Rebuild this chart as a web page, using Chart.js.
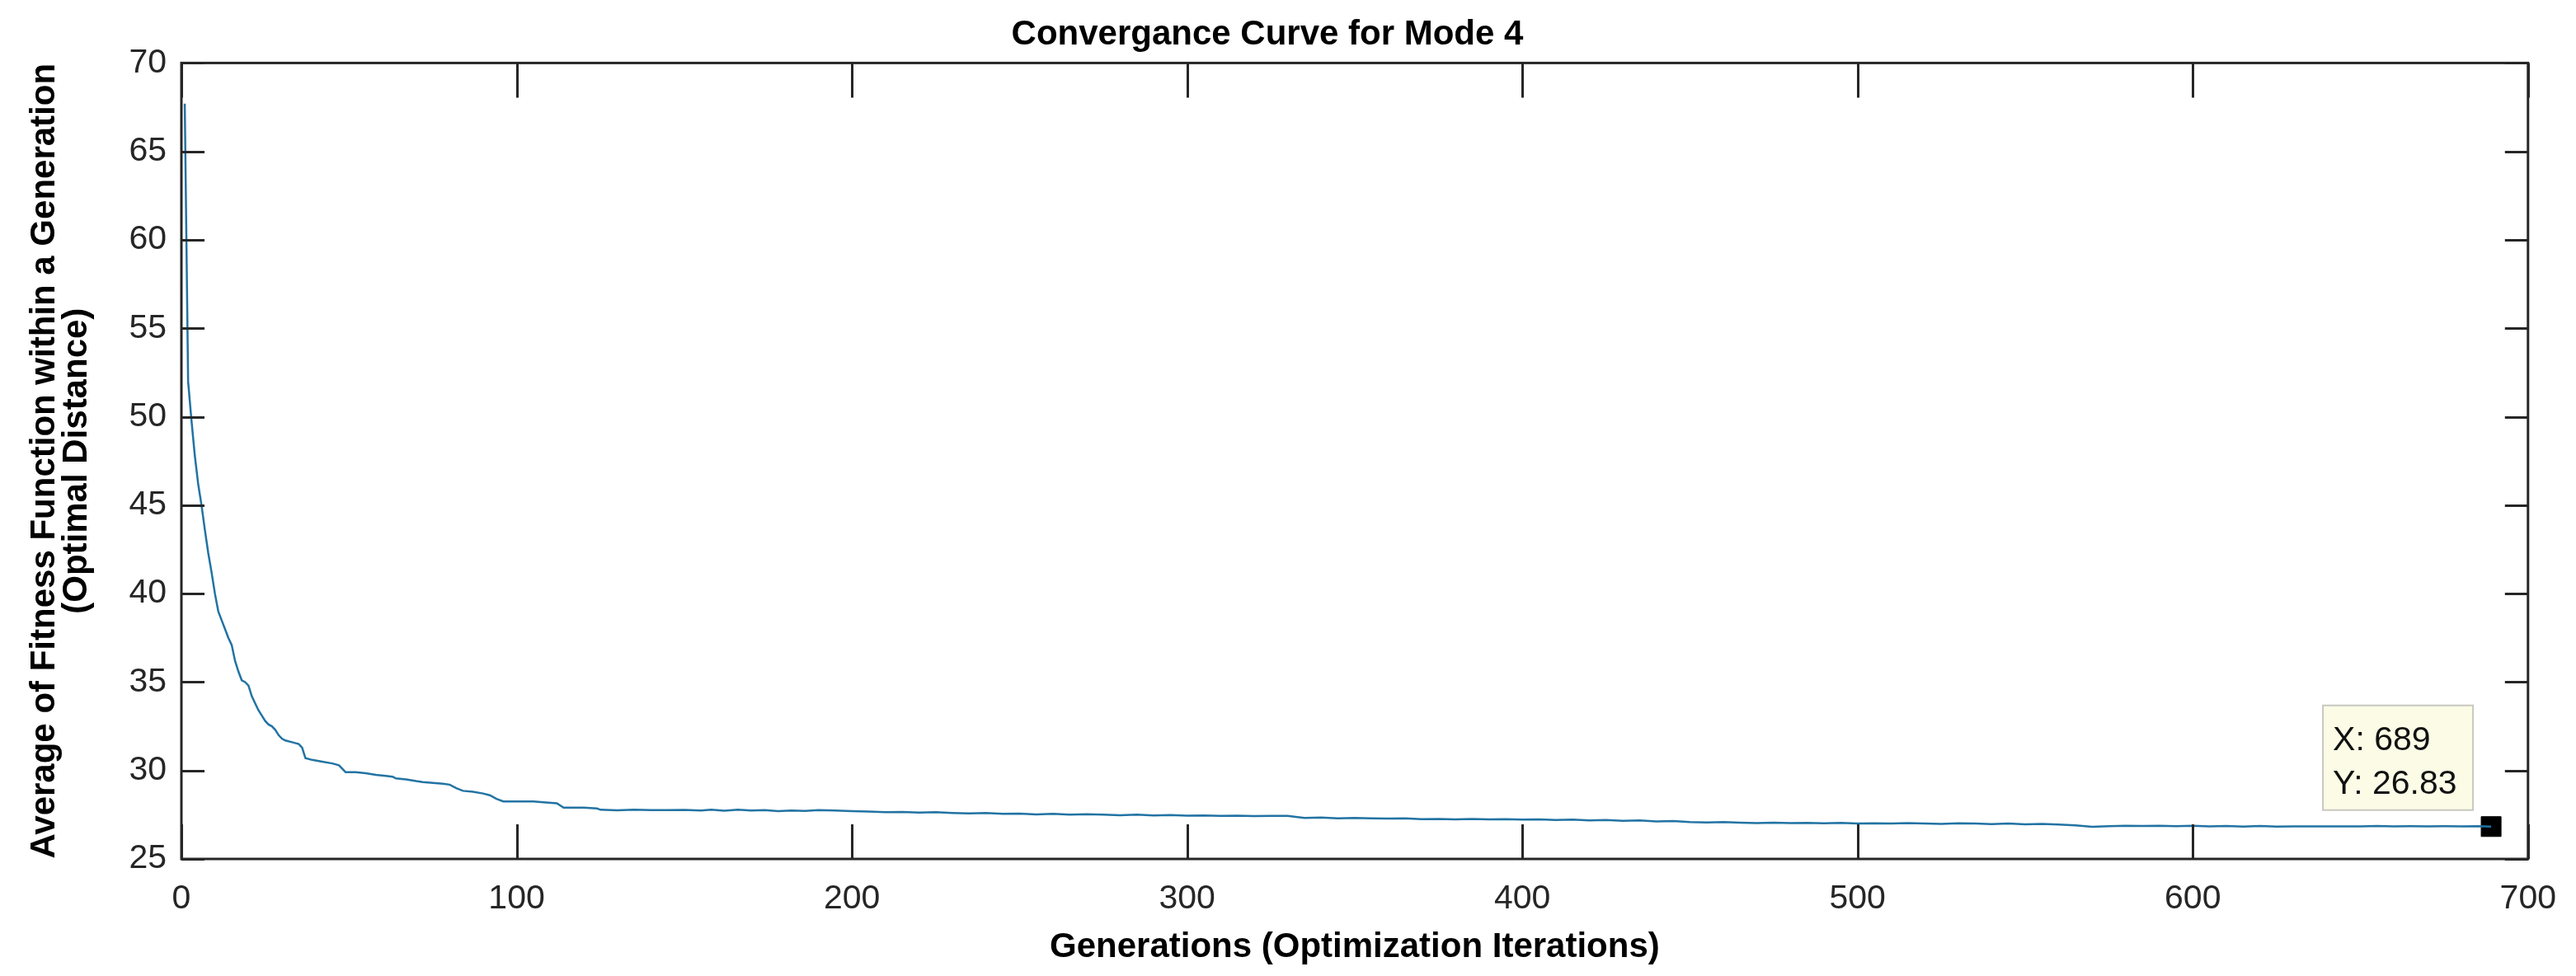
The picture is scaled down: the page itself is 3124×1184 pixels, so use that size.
<!DOCTYPE html>
<html lang="en">
<head>
    <meta charset="UTF-8">
    <title>Convergance Curve for Mode 4</title>
    <script src="https://cdn.jsdelivr.net/npm/chart.js"></script>
    <style>
        body { margin: 0; background: #fff; }
        canvas { display: block; }
    </style>
</head>
<body>
    <canvas id="chart" width="3124" height="1184"></canvas>

    <script>
        // values (generation, average fitness)
        const generations = [1, 2, 3, 4, 5, 6, 7, 8, 9, 10, 11, 12, 13, 14, 15, 16, 17, 18, 19, 20,
            21, 22, 23, 24, 25, 26, 27, 28, 29, 30, 31, 33, 35, 36, 37, 39, 42, 45, 47, 48, 49, 52, 55, 58,
            61, 63, 64, 67, 70, 72, 75, 78, 80, 82, 84, 87, 90, 92, 94, 96, 100, 105, 108, 112, 114, 120,
            124, 125, 130, 135, 140, 145, 150, 155, 158, 162, 166, 170, 174, 178, 182, 186, 190, 195, 200,
            205, 210, 215, 220, 225, 230, 235, 240, 245, 250, 255, 260, 265, 270, 275, 280, 285, 290, 295,
            300, 305, 310, 315, 320, 325, 330, 335, 340, 345, 350, 355, 360, 365, 370, 375, 380, 385, 390,
            395, 400, 405, 410, 415, 420, 425, 430, 435, 440, 445, 450, 455, 460, 465, 470, 475, 480, 485,
            490, 495, 500, 505, 510, 515, 520, 525, 530, 535, 540, 545, 550, 555, 560, 565, 570, 575, 580,
            585, 590, 595, 600, 605, 610, 615, 620, 625, 630, 640, 650, 655, 660, 665, 670, 675, 680, 685, 689];
        const avgFitness = [67.7, 52.0, 49.8, 47.8, 46.2, 45.0, 43.6, 42.3, 41.2, 40.0, 39.0, 38.5, 38.0, 37.5, 37.1, 36.2, 35.6, 35.1, 35.0, 34.8,
            34.2, 33.8, 33.4, 33.1, 32.8, 32.6, 32.5, 32.3, 32.0, 31.8, 31.7, 31.6, 31.5, 31.3, 30.7, 30.6, 30.5, 30.4, 30.3, 30.1, 29.9, 29.9, 29.85, 29.75,
            29.7, 29.65, 29.55, 29.5, 29.4, 29.35, 29.3, 29.25, 29.2, 29.0, 28.85, 28.8, 28.7, 28.6, 28.4, 28.25, 28.25, 28.25, 28.2, 28.15, 27.9, 27.9,
            27.85, 27.78, 27.75, 27.78, 27.76, 27.76, 27.77, 27.74, 27.78, 27.73, 27.78, 27.74, 27.76, 27.7, 27.74, 27.72, 27.76, 27.74, 27.7,
            27.68, 27.65, 27.66, 27.62, 27.64, 27.6, 27.58, 27.6, 27.55, 27.56, 27.52, 27.55, 27.5, 27.53, 27.5, 27.47, 27.5, 27.46, 27.48,
            27.45, 27.46, 27.44, 27.45, 27.42, 27.44, 27.43, 27.32, 27.34, 27.3, 27.32, 27.3, 27.28, 27.3, 27.25, 27.26, 27.24, 27.26, 27.24,
            27.25, 27.22, 27.24, 27.2, 27.22, 27.18, 27.2, 27.16, 27.18, 27.12, 27.14, 27.08, 27.06, 27.08, 27.05, 27.03, 27.05, 27.03, 27.04,
            27.02, 27.04, 27.0, 27.02, 27.0, 27.03, 27.0, 26.98, 27.02, 27.0, 26.97, 27.0, 26.96, 26.98, 26.95, 26.9, 26.82, 26.85, 26.88,
            26.86, 26.88, 26.85, 26.87, 26.84, 26.86, 26.83, 26.86, 26.83, 26.84, 26.84, 26.84, 26.86, 26.84, 26.85, 26.84, 26.85, 26.84, 26.85, 26.83];

        // data tip
        const tipX = [689];
        const tipY = [26.83];

        const xTicks = [0, 100, 200, 300, 400, 500, 600, 700];
        const yTicks = [25, 30, 35, 40, 45, 50, 55, 60, 65, 70];

        const axisColor = "#262626";

        const frameAndTicks = {
            id: "frameAndTicks",
            afterDatasetsDraw(chart) {
                const ctx = chart.ctx;
                const { left, right, top, bottom } = chart.chartArea;
                const xs = chart.scales.x, ys = chart.scales.y;
                ctx.save();
                ctx.strokeStyle = axisColor;
                ctx.lineWidth = 3;
                ctx.beginPath();
                xTicks.forEach(v => {
                    const px = Math.round(xs.getPixelForValue(v)) + 0.5;
                    ctx.moveTo(px, bottom); ctx.lineTo(px, bottom - 42);
                    ctx.moveTo(px, top); ctx.lineTo(px, top + 42);
                });
                yTicks.forEach(v => {
                    const py = Math.round(ys.getPixelForValue(v)) + 0.5;
                    ctx.moveTo(left, py); ctx.lineTo(left + 28, py);
                    ctx.moveTo(right, py); ctx.lineTo(right - 28, py);
                });
                ctx.stroke();
                ctx.strokeRect(left, top, right - left, bottom - top);
                ctx.restore();
            },
            afterDraw(chart) {
                // MATLAB style data tip box above the marker
                const ctx = chart.ctx;
                const px = chart.scales.x.getPixelForValue(tipX[0]);
                const py = chart.scales.y.getPixelForValue(tipY[0]);
                const w = 182, h = 127;
                const bx = px - 22 - w, by = py - 20 - h;
                ctx.save();
                ctx.fillStyle = "#fbfbe6";
                ctx.fillRect(bx, by, w, h);
                ctx.strokeStyle = "#c8c8c0";
                ctx.lineWidth = 2;
                ctx.strokeRect(bx, by, w, h);
                ctx.fillStyle = "#111";
                ctx.font = "41px 'Liberation Sans', Arial, sans-serif";
                ctx.textBaseline = "alphabetic";
                ctx.fillText("X: " + tipX[0], bx + 12, by + 54);
                ctx.fillText("Y: " + tipY[0].toFixed(2), bx + 12, by + 107);
                ctx.restore();
            }
        };

        const ctx = document.getElementById("chart").getContext("2d");
        new Chart(ctx, {
            type: "line",
            data: {
                datasets: [
                    {
                        data: generations.map((g, i) => ({ x: g, y: avgFitness[i] })),
                        borderColor: "#2273a3",
                        borderWidth: 2.5,
                        pointRadius: 0,
                        tension: 0,
                        fill: false
                    },
                    {
                        data: tipX.map((g, i) => ({ x: g, y: tipY[i] })),
                        showLine: false,
                        pointStyle: "rect",
                        pointRadius: 17,
                        backgroundColor: "#000",
                        borderColor: "#000",
                        borderWidth: 1,
                        clip: false
                    }
                ]
            },
            options: {
                responsive: false,
                animation: false,
                devicePixelRatio: 1,
                layout: { padding: { left: 0, right: 50, top: 0, bottom: 0 } },
                plugins: {
                    legend: { display: false },
                    tooltip: { enabled: false },
                    title: {
                        display: true,
                        text: "Convergance Curve for Mode 4",
                        color: "#000",
                        font: { family: "'Liberation Sans', Arial, sans-serif", size: 42, weight: "bold", lineHeight: 1.2 },
                        padding: { top: 17, bottom: 9 }
                    }
                },
                scales: {
                    x: {
                        type: "linear",
                        min: 0,
                        max: 700,
                        afterBuildTicks: s => { s.ticks = xTicks.map(v => ({ value: v })); },
                        afterFit: s => { s.height = 142; },
                        grid: { display: false, drawTicks: false },
                        border: { display: false },
                        ticks: {
                            color: axisColor,
                            padding: 24,
                            maxRotation: 0,
                            font: { family: "'Liberation Sans', Arial, sans-serif", size: 41 }
                        },
                        title: {
                            display: true,
                            text: "Generations (Optimization Iterations)",
                            color: "#000",
                            font: { family: "'Liberation Sans', Arial, sans-serif", size: 42, weight: "bold", lineHeight: 1.2 },
                            padding: { top: 0, bottom: 9 }
                        }
                    },
                    y: {
                        type: "linear",
                        min: 25,
                        max: 70,
                        afterBuildTicks: s => { s.ticks = yTicks.map(v => ({ value: v })); },
                        afterFit: s => { s.width = 220; },
                        grid: { display: false, drawTicks: false },
                        border: { display: false },
                        ticks: {
                            color: axisColor,
                            padding: 18,
                            font: { family: "'Liberation Sans', Arial, sans-serif", size: 41 }
                        },
                        title: {
                            display: true,
                            text: ["Average of Fitness Function within a Generation", "(Optimal Distance)"],
                            color: "#000",
                            font: { family: "'Liberation Sans', Arial, sans-serif", size: 42, weight: "bold", lineHeight: 0.95 },
                            padding: { top: 34, bottom: 0 }
                        }
                    }
                }
            },
            plugins: [frameAndTicks]
        });
    </script>
</body>
</html>
